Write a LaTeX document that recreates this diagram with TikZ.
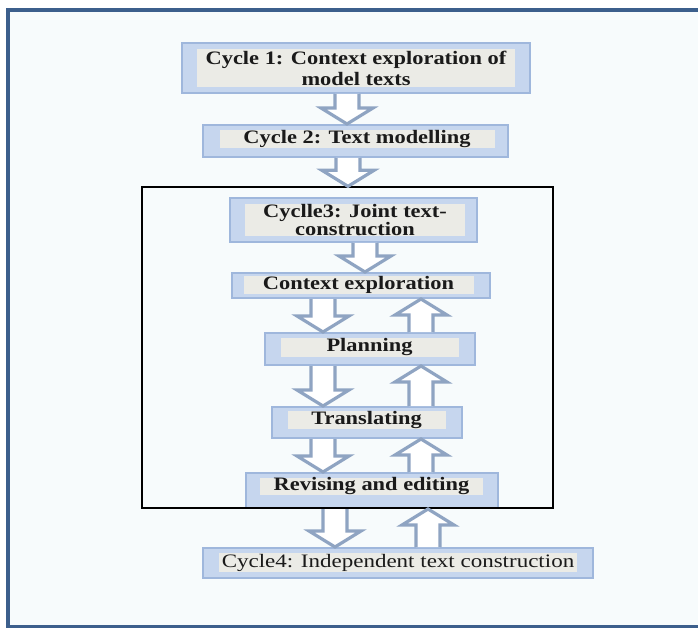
\documentclass[tikz,border=0pt]{standalone}
\usepackage{fontspec}
\setmainfont{Liberation Serif}
\newfontfamily\bxfont[FakeStretch=1.18]{Liberation Serif}
\newfontfamily\rxfont[FakeStretch=1.21]{Liberation Serif}
\usetikzlibrary{calc}
\definecolor{frameblue}{HTML}{3C5F8C}
\definecolor{bgc}{HTML}{F7FBFC}
\definecolor{boxfill}{HTML}{C6D6EE}
\definecolor{boxedge}{HTML}{9FB7DC}
\definecolor{innerfill}{HTML}{EBEBE6}
\definecolor{arrowc}{HTML}{8FA4C2}
\definecolor{textc}{HTML}{1A1A1A}
\tikzset{
  outerbox/.style={draw=boxedge, fill=boxfill, line width=2pt, inner sep=0pt},
  innerbox/.style={fill=innerfill, inner sep=0pt, align=center, text=textc,
    font=\bxfont\bfseries\fontsize{19}{21}\selectfont},
  barr/.style={draw=arrowc, fill=white, line width=3.2pt, line join=miter},
}
\newcommand\blockarrow[2]{%
  \filldraw[barr] let \p1=(#1), \p2=(#2), \p3=($(#2)!16pt!(#1)$) in
    (\x1-12pt,\y1) -- (\x1-12pt,\y3) -- (\x1-26pt,\y3) -- (\x2,\y2)
    -- (\x1+26pt,\y3) -- (\x1+12pt,\y3) -- (\x1+12pt,\y1);}
\begin{document}
\begin{tikzpicture}[x=1pt,y=1pt]
\useasboundingbox (0,0) rectangle (698,-628);
\clip (0,0) rectangle (698,-628);
\fill[white] (0,0) rectangle (698,-628);
\draw[frameblue, fill=bgc, line width=4pt] (8,-10) rectangle (740,-627);

% boxes
\node[outerbox, minimum width=348pt, minimum height=50pt] (c1o) at (356,-68) {};
\node[innerbox, minimum width=318pt, minimum height=38pt] (c1) at (356,-68.5)
  {Cycle 1: Context exploration of\\model texts};

\node[outerbox, minimum width=305pt, minimum height=32pt] (c2o) at (355.5,-141) {};
\node[innerbox, minimum width=275pt, minimum height=18pt] (c2) at (357,-139)
  {Cycle 2: Text modelling};

\node[outerbox, minimum width=247pt, minimum height=44pt] (c3o) at (353.5,-220) {};
\node[innerbox, minimum width=220pt, minimum height=32pt,
  font=\bxfont\bfseries\fontsize{19}{17}\selectfont] (c3) at (355,-220)
  {Cyclle3: Joint text-\\construction};

\node[outerbox, minimum width=258pt, minimum height=25pt] (ctxo) at (361,-285.5) {};
\node[innerbox, minimum width=230pt, minimum height=15pt] (ctx) at (358.5,-285)
  {Context exploration};

\node[outerbox, minimum width=210pt, minimum height=32pt] (plano) at (370,-349) {};
\node[innerbox, minimum width=178pt, minimum height=19pt] (plan) at (369.5,-347.5)
  {Planning};

\node[outerbox, minimum width=190pt, minimum height=31pt] (transo) at (367,-422.5) {};
\node[innerbox, minimum width=158pt, minimum height=16pt] (trans) at (366.5,-420)
  {Translating};

\node[outerbox, minimum width=252pt, minimum height=35pt] (revo) at (372,-490.5) {};
\node[innerbox, minimum width=223pt, minimum height=17pt] (rev) at (371.5,-486.5)
  {Revising and editing};

\node[outerbox, minimum width=390pt, minimum height=30pt] (c4o) at (398,-563) {};
\node[innerbox, minimum width=358pt, minimum height=19pt,
  font=\rxfont\fontsize{19}{21}\selectfont] (c4) at (398,-562.5)
  {Cycle4: Independent text construction};

% frame of cycle 3
\node[draw=black, line width=1.3pt, minimum width=411pt, minimum height=321pt,
  inner sep=0pt] (frame) at (347.5,-347.5) {};

% arrow columns
\coordinate (xa) at (347,0);
\coordinate (xb) at (348,0);
\coordinate (xc) at (365,0);
\coordinate (xd) at (323,0);
\coordinate (xu) at (421,0);
\coordinate (xe) at (335,0);
\coordinate (xf) at (428,0);

\blockarrow{xa |- c1o.south}{xa |- c2o.north}
\blockarrow{xb |- c2o.south}{xb |- frame.north}
\blockarrow{xc |- c3o.south}{xc |- ctxo.north}
\blockarrow{xd |- ctxo.south}{xd |- plano.north}
\blockarrow{xu |- plano.north}{xu |- ctxo.south}
\blockarrow{xd |- plano.south}{xd |- transo.north}
\blockarrow{xu |- transo.north}{xu |- plano.south}
\blockarrow{xd |- transo.south}{xd |- revo.north}
\blockarrow{xu |- revo.north}{xu |- transo.south}
\blockarrow{xe |- revo.south}{xe |- c4o.north}
\blockarrow{xf |- c4o.north}{xf |- revo.south}
\end{tikzpicture}
\end{document}
